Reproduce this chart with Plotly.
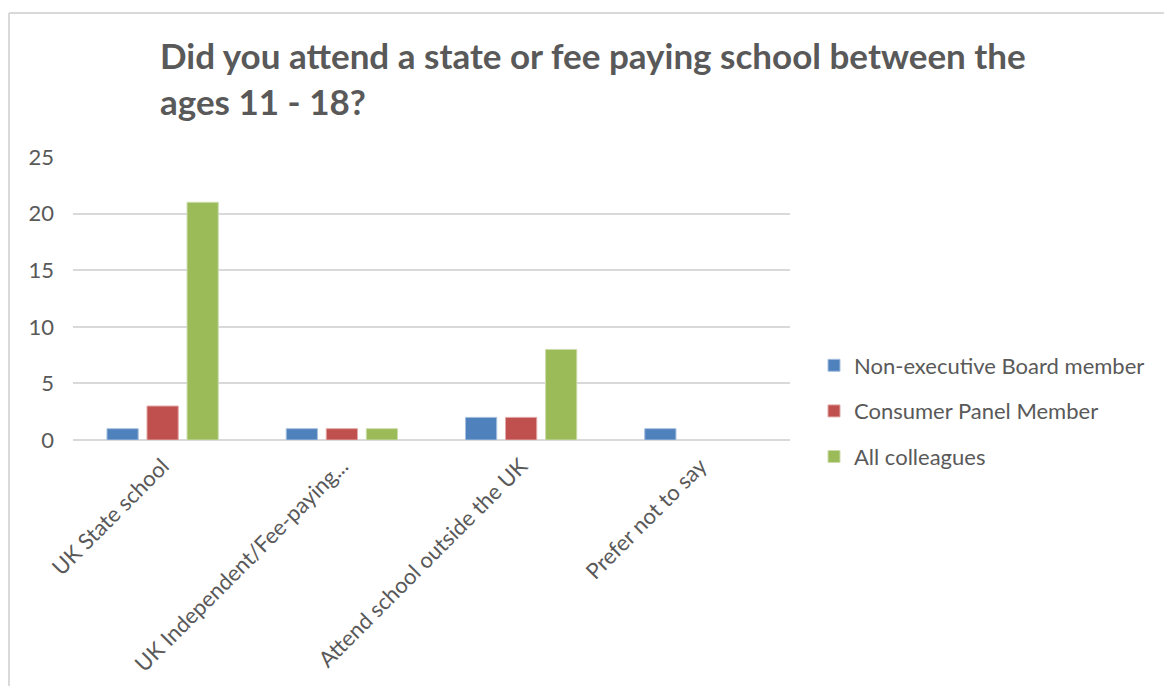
import plotly.graph_objects as go

categories = ["UK State school", "UK Independent/Fee-paying...", "Attend school outside the UK", "Prefer not to say"]
non_exec_board = [1, 1, 2, 1]
consumer_panel = [3, 1, 2, 0]
all_colleagues = [21, 1, 8, 0]

series = [
    ("Non-executive Board member", non_exec_board, "#4f81bd", "#a7c0de"),
    ("Consumer Panel Member", consumer_panel, "#c0504d", "#e0a8a6"),
    ("All colleagues", all_colleagues, "#9bbb59", "#cddcac"),
]

W, H = 1164, 686
L, R, T, B = 73, 374, 157, 246
PW, PH = W - L - R, H - T - B

def px_x(x):
    return (x - L) / PW

def px_y(y):
    return (H - B - y) / PH

fig = go.Figure()
for i, (name, vals, color, edge) in enumerate(series):
    fig.add_trace(go.Bar(
        x=categories, y=vals, name=name,
        marker=dict(color=color,
                    line=dict(color=edge, width=[1 if v > 0 else 0 for v in vals])),
        legendgroup=f"g{i}",
    ))

text_color = "#595959"
border = "#d9d9d9"
fig.update_layout(
    width=W, height=H,
    margin=dict(l=L, r=R, t=T, b=B, autoexpand=False),
    paper_bgcolor="white", plot_bgcolor="white",
    barmode="group", bargap=0.33, bargroupgap=0.22,
    font=dict(family="Lato, Open Sans, sans-serif", size=22, color=text_color),
    title=dict(
        text="Did you attend a state or fee paying school between the<br>ages 11 - 18?",
        font=dict(family="Lato, Open Sans, sans-serif", size=35, color=text_color, weight="bold"),
        x=160 / W, xanchor="left", xref="container",
        y=1 - 69 / H, yanchor="top", yref="container",
    ),
    xaxis=dict(
        tickangle=-45, showgrid=False, showline=False, ticks="",
        ticklabelstandoff=8,
        tickfont=dict(size=22, color=text_color),
    ),
    yaxis=dict(
        range=[0, 25], dtick=5, showgrid=True, gridcolor=border, gridwidth=2,
        zeroline=True, zerolinecolor=border, zerolinewidth=2,
        showline=False, ticks="", ticklabelstandoff=18,
        tickfont=dict(size=22, color=text_color),
    ),
    legend=dict(
        x=px_x(814), xanchor="left",
        y=px_y(411), yanchor="middle",
        tracegroupgap=14, font=dict(size=22, color=text_color),
        bgcolor="rgba(0,0,0,0)",
    ),
    shapes=[
        dict(type="line", xref="paper", yref="paper",
             x0=px_x(9), x1=px_x(W), y0=px_y(13), y1=px_y(13),
             line=dict(color=border, width=2)),
        dict(type="line", xref="paper", yref="paper",
             x0=px_x(9), x1=px_x(9), y0=px_y(13), y1=px_y(H),
             line=dict(color=border, width=2)),
    ],
)

fig.write_html("out.html")
